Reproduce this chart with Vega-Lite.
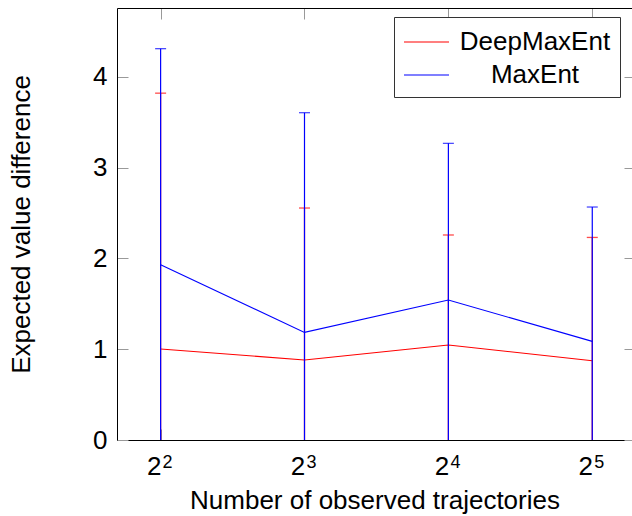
{
  "$schema": "https://vega.github.io/schema/vega-lite/v6.json",
  "width": 515,
  "height": 432,
  "autosize": {"type": "none"},
  "padding": {"left": 117, "top": 8, "right": 0, "bottom": 76},
  "background": "white",
  "config": {
    "font": "Liberation Sans",
    "view": {"stroke": null},
    "axis": {
      "grid": false,
      "domainColor": "#000000",
      "domainWidth": 1,
      "tickColor": "#999999",
      "tickWidth": 1,
      "tickSize": -11,
      "labelFontSize": 26,
      "titleFontSize": 26,
      "titleFontWeight": "normal",
      "labelColor": "#000000",
      "titleColor": "#000000",
      "labelFont": "Liberation Sans",
      "titleFont": "Liberation Sans"
    },
    "legend": {
      "orient": "none",
      "legendX": 277,
      "legendY": 9,
      "strokeColor": "#333333",
      "fillColor": "white",
      "padding": 9,
      "labelFontSize": 26,
      "labelFont": "Liberation Sans",
      "labelColor": "#000000",
      "symbolType": "M-1,0H2",
      "symbolSize": 900,
      "symbolStrokeWidth": 1.2,
      "rowPadding": 4,
      "labelAlign": "center",
      "labelOffset": 100
    }
  },
  "data": {
    "values": [
      {"n": 4, "series": "DeepMaxEnt", "mean": 1.002, "lower": -1.816, "upper": 3.82},
      {"n": 8, "series": "DeepMaxEnt", "mean": 0.881, "lower": -0.793, "upper": 2.555},
      {"n": 16, "series": "DeepMaxEnt", "mean": 1.046, "lower": -0.166, "upper": 2.258},
      {"n": 32, "series": "DeepMaxEnt", "mean": 0.873, "lower": -0.485, "upper": 2.231},
      {"n": 4, "series": "MaxEnt", "mean": 1.93, "lower": -0.45, "upper": 4.31},
      {"n": 8, "series": "MaxEnt", "mean": 1.185, "lower": -1.235, "upper": 3.605},
      {"n": 16, "series": "MaxEnt", "mean": 1.542, "lower": -0.183, "upper": 3.267},
      {"n": 32, "series": "MaxEnt", "mean": 1.086, "lower": -0.394, "upper": 2.566}
    ]
  },
  "layer": [
    {
      "layer": [
        {
          "transform": [{"filter": "datum.series === 'DeepMaxEnt'"}],
          "mark": {"type": "rule", "clip": true, "strokeWidth": 1.2},
          "encoding": {
            "x": {"field": "n", "type": "quantitative", "title": "Number of observed trajectories", "scale": {"type": "log", "base": 2, "domain": [3.242, 38.75], "nice": false}, "axis": {"orient": "bottom", "values": [4, 8, 16, 32], "labelExpr": "'2'", "labelOffset": -7, "labelPadding": 24, "titlePadding": 8}},
            "y": {"field": "lower", "type": "quantitative", "title": "Expected value difference", "scale": {"domain": [0, 4.758], "nice": false, "zero": false}, "axis": {"orient": "left", "values": [0, 1, 2, 3, 4], "format": "d", "labelPadding": 21, "titlePadding": 58}},
            "y2": {"field": "upper"},
            "color": {"field": "series", "type": "nominal", "title": null, "scale": {"domain": ["DeepMaxEnt", "MaxEnt"], "range": ["#ff0000", "#0000ff"]}, "legend": {"encode": {"symbols": {"update": {"stroke": {"signal": "datum.value === 'DeepMaxEnt' ? '#ff0000' : '#0000ff'"}, "fill": {"value": "transparent"}, "opacity": {"value": 1}, "strokeOpacity": {"value": 1}}}}}}
          }
        },
        {
          "transform": [{"filter": "datum.series === 'DeepMaxEnt'"}],
          "mark": {"type": "tick", "clip": true, "orient": "horizontal", "size": 11, "thickness": 1.3},
          "encoding": {
            "x": {"field": "n", "type": "quantitative", "title": "Number of observed trajectories"},
            "y": {"field": "upper", "type": "quantitative", "title": "Expected value difference"},
            "color": {"field": "series", "type": "nominal", "title": null}
          }
        },
        {
          "transform": [{"filter": "datum.series === 'DeepMaxEnt'"}],
          "mark": {"type": "line", "clip": true, "strokeWidth": 1.1},
          "encoding": {
            "x": {"field": "n", "type": "quantitative", "title": "Number of observed trajectories"},
            "y": {"field": "mean", "type": "quantitative", "title": "Expected value difference"},
            "color": {"field": "series", "type": "nominal", "title": null}
          }
        },
        {
          "transform": [{"filter": "datum.series === 'MaxEnt'"}],
          "mark": {"type": "rule", "clip": true, "strokeWidth": 1.2},
          "encoding": {
            "x": {"field": "n", "type": "quantitative", "title": "Number of observed trajectories"},
            "y": {"field": "lower", "type": "quantitative", "title": "Expected value difference"},
            "y2": {"field": "upper"},
            "color": {"field": "series", "type": "nominal", "title": null}
          }
        },
        {
          "transform": [{"filter": "datum.series === 'MaxEnt'"}],
          "mark": {"type": "tick", "clip": true, "orient": "horizontal", "size": 11, "thickness": 1.3},
          "encoding": {
            "x": {"field": "n", "type": "quantitative", "title": "Number of observed trajectories"},
            "y": {"field": "upper", "type": "quantitative", "title": "Expected value difference"},
            "color": {"field": "series", "type": "nominal", "title": null}
          }
        },
        {
          "transform": [{"filter": "datum.series === 'MaxEnt'"}],
          "mark": {"type": "line", "clip": true, "strokeWidth": 1.1},
          "encoding": {
            "x": {"field": "n", "type": "quantitative", "title": "Number of observed trajectories"},
            "y": {"field": "mean", "type": "quantitative", "title": "Expected value difference"},
            "color": {"field": "series", "type": "nominal", "title": null}
          }
        }
      ]
    },
    {
      "mark": {"type": "point", "opacity": 0, "clip": true},
      "encoding": {
        "x": {"field": "n", "type": "quantitative", "scale": {"type": "log", "base": 2, "domain": [3.242, 38.75], "nice": false}, "axis": {"orient": "top", "values": [4, 8, 16, 32], "labels": false, "title": null, "domain": true}},
        "y": {"field": "mean", "type": "quantitative", "scale": {"domain": [0, 4.758], "nice": false, "zero": false}, "axis": {"orient": "right", "values": [0, 1, 2, 3, 4], "labels": false, "title": null, "domain": false, "tickSize": -8}}
      }
    },
    {
      "mark": {"type": "point", "opacity": 0, "clip": true},
      "encoding": {
        "x": {"field": "n", "type": "quantitative", "scale": {"type": "log", "base": 2, "domain": [3.242, 38.75], "nice": false}, "axis": {"orient": "bottom", "values": [4, 8, 16, 32], "labelExpr": "datum.value == 4 ? '2' : datum.value == 8 ? '3' : datum.value == 16 ? '4' : '5'", "labelFontSize": 18, "labelOffset": 6.5, "labelPadding": 13, "ticks": false, "tickSize": 0, "domain": false, "title": null}}
      }
    }
  ],
  "resolve": {"axis": {"x": "independent", "y": "independent"}}
}
